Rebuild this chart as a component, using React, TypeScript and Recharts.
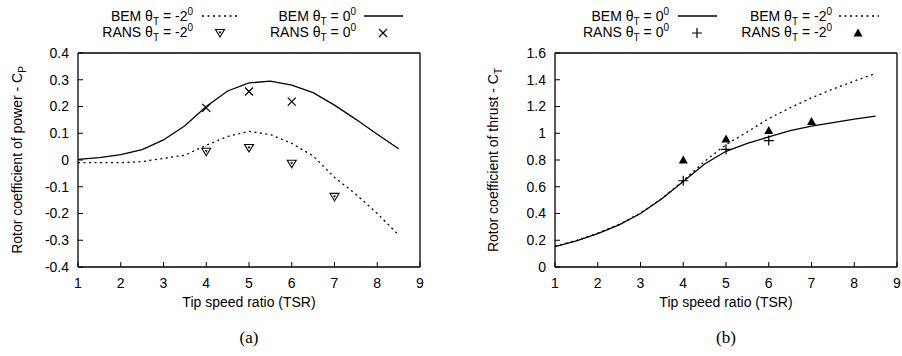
import React from "react";
import { ComposedChart, Line, Scatter, XAxis, YAxis } from "recharts";

// BEM curves, sampled every 0.5 TSR
const TSR_LINE = [1, 1.5, 2, 2.5, 3, 3.5, 4, 4.5, 5, 5.5, 6, 6.5, 7, 7.5, 8, 8.5];
const CP_BEM_0 = [0.002, 0.009, 0.02, 0.039, 0.075, 0.128, 0.2, 0.258, 0.288, 0.295, 0.28, 0.252, 0.205, 0.152, 0.096, 0.042];
const CP_BEM_M2 = [-0.01, -0.01, -0.01, -0.006, 0.006, 0.018, 0.055, 0.088, 0.107, 0.095, 0.062, 0.015, -0.065, -0.128, -0.2, -0.28];
const CT_BEM_0 = [0.152, 0.195, 0.25, 0.315, 0.4, 0.51, 0.64, 0.77, 0.865, 0.925, 0.972, 1.02, 1.053, 1.08, 1.105, 1.128];
const CT_BEM_M2 = [0.155, 0.198, 0.253, 0.318, 0.403, 0.512, 0.645, 0.79, 0.915, 1.01, 1.11, 1.19, 1.265, 1.33, 1.39, 1.447];

// RANS results
const TSR_RANS_0 = [4, 5, 6];
const CP_RANS_0 = [0.195, 0.256, 0.218];
const CT_RANS_0 = [0.645, 0.88, 0.945];
const TSR_RANS_M2 = [4, 5, 6, 7];
const CP_RANS_M2 = [0.031, 0.045, -0.014, -0.138];
const CT_RANS_M2 = [0.8, 0.957, 1.02, 1.087];

const X_TICKS = [1, 2, 3, 4, 5, 6, 7, 8, 9];
const CP_TICKS = [-0.4, -0.3, -0.2, -0.1, 0, 0.1, 0.2, 0.3, 0.4];
const CT_TICKS = [0, 0.2, 0.4, 0.6, 0.8, 1, 1.2, 1.4, 1.6];

const FONT = "'Liberation Sans', Arial, Helvetica, sans-serif";
const TICK_LEN = 5;

const pts = (xs: number[], ys: number[]) => xs.map((x, i) => ({ x, y: ys[i] }));
const fmt = (v: number) => String(Number(v.toFixed(1)));

// gnuplot-style ticks: short marks pointing into the plot, labels outside
const BottomTick = ({ x, y, payload }: any) => (
  <g>
    <line x1={x} x2={x} y1={y} y2={y - TICK_LEN} stroke="#000" />
    <text x={x} y={y + 11} dy="0.71em" textAnchor="middle" fontSize={14} fontFamily={FONT} fill="#000">
      {fmt(payload.value)}
    </text>
  </g>
);
const LeftTick = ({ x, y, payload }: any) => (
  <g>
    <line x1={x} x2={x + TICK_LEN} y1={y} y2={y} stroke="#000" />
    <text x={x - 9} y={y} dy="0.355em" textAnchor="end" fontSize={14} fontFamily={FONT} fill="#000">
      {fmt(payload.value)}
    </text>
  </g>
);
const TopTick = ({ x, y }: any) => <line x1={x} x2={x} y1={y} y2={y + TICK_LEN} stroke="#000" />;
const RightTick = ({ x, y }: any) => <line x1={x} x2={x - TICK_LEN} y1={y} y2={y} stroke="#000" />;

const Cross = (p: any) => (
  <path d={`M${p.cx - 4},${p.cy - 4}L${p.cx + 4},${p.cy + 4}M${p.cx - 4},${p.cy + 4}L${p.cx + 4},${p.cy - 4}`} stroke="#000" strokeWidth={1.2} fill="none" />
);
const Plus = (p: any) => (
  <path d={`M${p.cx - 5},${p.cy}L${p.cx + 5},${p.cy}M${p.cx},${p.cy - 5}L${p.cx},${p.cy + 5}`} stroke="#000" strokeWidth={1.2} fill="none" />
);
const TriDown = (p: any) => (
  <g>
    <path d={`M${p.cx - 4.5},${p.cy - 3.5}L${p.cx + 4.5},${p.cy - 3.5}L${p.cx},${p.cy + 4}Z`} stroke="#000" strokeWidth={1.1} fill="#fff" />
    <path d={`M${p.cx - 1.5},${p.cy - 1.5}L${p.cx + 1.5},${p.cy - 1.5}L${p.cx},${p.cy + 1}Z`} fill="#000" />
  </g>
);
const TriUp = (p: any) => (
  <path d={`M${p.cx - 4.5},${p.cy + 3.5}L${p.cx + 4.5},${p.cy + 3.5}L${p.cx},${p.cy - 4.5}Z`} fill="#000" />
);

type PanelProps = {
  left: number;
  marginLeft: number;
  marginRight: number;
  rightWidth: number;
  domain: [number, number];
  ticks: number[];
  solid: { x: number; y: number }[];
  dotted: { x: number; y: number }[];
  rans0: { x: number; y: number }[];
  ransM2: { x: number; y: number }[];
  shape0: (p: any) => React.ReactElement;
  shapeM2: (p: any) => React.ReactElement;
};

const AXIS_LINE = { stroke: "#000", strokeWidth: 1.3 };

function Panel(props: PanelProps) {
  return (
    <div style={{ position: "absolute", left: props.left, top: 0 }}>
      <ComposedChart
        width={451}
        height={356}
        margin={{ top: 43, right: props.marginRight, bottom: 59, left: props.marginLeft }}
      >
        <XAxis
          xAxisId="b"
          type="number"
          dataKey="x"
          domain={[1, 9]}
          ticks={X_TICKS}
          interval={0}
          height={30}
          tickSize={0}
          tickMargin={0}
          tick={BottomTick}
          tickLine={false}
          axisLine={AXIS_LINE}
        />
        <XAxis
          xAxisId="t"
          orientation="top"
          type="number"
          domain={[1, 9]}
          ticks={X_TICKS}
          interval={0}
          height={10}
          tickSize={0}
          tickMargin={0}
          tick={TopTick}
          tickLine={false}
          axisLine={AXIS_LINE}
        />
        <YAxis
          yAxisId="l"
          type="number"
          dataKey="y"
          domain={props.domain}
          ticks={props.ticks}
          interval={0}
          width={60}
          tickSize={0}
          tickMargin={0}
          tick={LeftTick}
          tickLine={false}
          axisLine={AXIS_LINE}
        />
        <YAxis
          yAxisId="r"
          orientation="right"
          type="number"
          domain={props.domain}
          ticks={props.ticks}
          interval={0}
          width={props.rightWidth}
          tickSize={0}
          tickMargin={0}
          tick={RightTick}
          tickLine={false}
          axisLine={AXIS_LINE}
        />
        <Line xAxisId="b" yAxisId="l" data={props.solid} dataKey="y" type="linear" stroke="#000" strokeWidth={1.3} dot={false} isAnimationActive={false} />
        <Line xAxisId="b" yAxisId="l" data={props.dotted} dataKey="y" type="linear" stroke="#000" strokeWidth={1.3} strokeDasharray="2 3.5" dot={false} isAnimationActive={false} />
        <Scatter xAxisId="b" yAxisId="l" data={props.rans0} dataKey="y" shape={props.shape0} isAnimationActive={false} />
        <Scatter xAxisId="b" yAxisId="l" data={props.ransM2} dataKey="y" shape={props.shapeM2} isAnimationActive={false} />
      </ComposedChart>
    </div>
  );
}

// legend entry text: "<name> θ_T = <angle>^0", right aligned at x
function Entry({ x, y, name, angle }: { x: number; y: number; name: string; angle: string }) {
  return (
    <text x={x} y={y} textAnchor="end" fontSize={14} fontFamily={FONT}>
      {name} θ<tspan dy={4} fontSize={10}>T</tspan>
      <tspan dy={-4}> = {angle}</tspan>
      <tspan dy={-6} fontSize={10}>0</tspan>
    </text>
  );
}

export default function App() {
  return (
    <div style={{ position: "relative", width: 902, height: 356, background: "#fff", overflow: "hidden" }}>
      <style>{`body { margin: 0; }`}</style>
      <Panel
        left={0}
        marginLeft={18}
        marginRight={21}
        rightWidth={10}
        domain={[-0.4, 0.4]}
        ticks={CP_TICKS}
        solid={pts(TSR_LINE, CP_BEM_0)}
        dotted={pts(TSR_LINE, CP_BEM_M2)}
        rans0={pts(TSR_RANS_0, CP_RANS_0)}
        ransM2={pts(TSR_RANS_M2, CP_RANS_M2)}
        shape0={Cross}
        shapeM2={TriDown}
      />
      <Panel
        left={451}
        marginLeft={44}
        marginRight={0}
        rightWidth={5}
        domain={[0, 1.6]}
        ticks={CT_TICKS}
        solid={pts(TSR_LINE, CT_BEM_0)}
        dotted={pts(TSR_LINE, CT_BEM_M2)}
        rans0={pts(TSR_RANS_0, CT_RANS_0)}
        ransM2={pts(TSR_RANS_M2, CT_RANS_M2)}
        shape0={Plus}
        shapeM2={TriUp}
      />
      <svg width={902} height={356} style={{ position: "absolute", left: 0, top: 0, pointerEvents: "none" }}>
        {/* legend (a) */}
        <Entry x={193} y={21} name="BEM" angle="-2" />
        <line x1={202} x2={240} y1={16} y2={16} stroke="#000" strokeWidth={1.3} strokeDasharray="2 3.5" />
        <Entry x={193} y={37} name="RANS" angle="-2" />
        <TriDown cx={220} cy={33} />
        <Entry x={356} y={21} name="BEM" angle="0" />
        <line x1={364} x2={403} y1={16} y2={16} stroke="#000" strokeWidth={1.3} />
        <Entry x={356} y={37} name="RANS" angle="0" />
        <Cross cx={383} cy={33} />

        {/* legend (b) */}
        <Entry x={669} y={21} name="BEM" angle="0" />
        <line x1={678} x2={717} y1={16} y2={16} stroke="#000" strokeWidth={1.3} />
        <Entry x={669} y={37} name="RANS" angle="0" />
        <Plus cx={697} cy={33} />
        <Entry x={832} y={21} name="BEM" angle="-2" />
        <line x1={839} x2={879} y1={16} y2={16} stroke="#000" strokeWidth={1.3} strokeDasharray="2 3.5" />
        <Entry x={832} y={37} name="RANS" angle="-2" />
        <TriUp cx={858} cy={33} />

        {/* axis titles */}
        <text x={22} y={160} transform="rotate(-90 22 160)" textAnchor="middle" fontSize={14} fontFamily={FONT}>
          Rotor coefficient of power - C<tspan dy={4} fontSize={10}>P</tspan>
        </text>
        <text x={498} y={160} transform="rotate(-90 498 160)" textAnchor="middle" fontSize={14} fontFamily={FONT}>
          Rotor coefficient of thrust - C<tspan dy={4} fontSize={10}>T</tspan>
        </text>
        <text x={249} y={307} textAnchor="middle" fontSize={14} fontFamily={FONT}>Tip speed ratio (TSR)</text>
        <text x={726} y={307} textAnchor="middle" fontSize={14} fontFamily={FONT}>Tip speed ratio (TSR)</text>

        {/* panel captions */}
        <text x={249} y={343} textAnchor="middle" fontSize={17} fontFamily="'Liberation Serif', 'DejaVu Serif', serif">(a)</text>
        <text x={726} y={343} textAnchor="middle" fontSize={17} fontFamily="'Liberation Serif', 'DejaVu Serif', serif">(b)</text>
      </svg>
    </div>
  );
}
